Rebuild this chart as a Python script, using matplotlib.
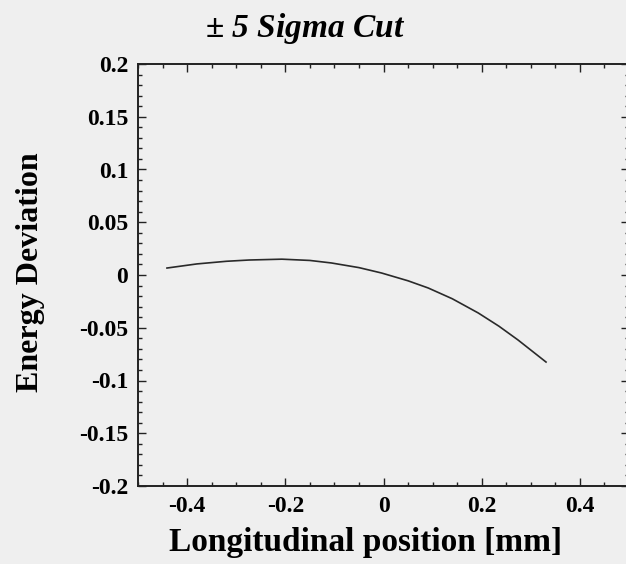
import numpy as np
import matplotlib
matplotlib.use("Agg")
import matplotlib.pyplot as plt
from matplotlib.ticker import MultipleLocator

# ----------------------------
# data
# ----------------------------
pos_mm = [-0.441, -0.38, -0.32, -0.274, -0.207, -0.15, -0.106, -0.05, -0.004,
          0.05, 0.091, 0.14, 0.193, 0.235, 0.274, 0.331]
energy_dev = [0.0066, 0.0105, 0.0130, 0.0142, 0.0150, 0.0138, 0.0114, 0.0070, 0.0019,
              -0.0055, -0.0123, -0.0225, -0.0360, -0.0485, -0.0616, -0.0825]

title = "$\\pm$ 5 Sigma Cut"
x_label = "Longitudinal position [mm]"
y_label = "Energy Deviation"
x_ticks = [-0.4, -0.2, 0, 0.2, 0.4]
x_tick_labels = ["-0.4", "-0.2", "0", "0.2", "0.4"]
y_ticks = [0.2, 0.15, 0.1, 0.05, 0, -0.05, -0.1, -0.15, -0.2]
y_tick_labels = ["0.2", "0.15", "0.1", "0.05", "0", "-0.05", "-0.1", "-0.15", "-0.2"]

bg = "#efefef"
plt.rcParams["font.family"] = ["Liberation Serif", "DejaVu Serif"]
plt.rcParams["mathtext.fontset"] = "custom"
plt.rcParams["mathtext.rm"] = "Liberation Serif:bold"
plt.rcParams["mathtext.it"] = "Liberation Serif:bold:italic"

fig = plt.figure(figsize=(6.26, 5.64), dpi=100, facecolor=bg)
ax = fig.add_axes([138 / 626, 78 / 564, 491 / 626, 422 / 564], facecolor=bg)

ax.plot(pos_mm, energy_dev, color="#2a2a2a", linewidth=1.2)

ax.set_xlim(-0.5, 0.5)
ax.set_ylim(-0.2, 0.2)
ax.set_xticks(x_ticks)
ax.set_xticklabels(x_tick_labels)
ax.set_yticks(y_ticks)
ax.set_yticklabels(y_tick_labels)
ax.xaxis.set_minor_locator(MultipleLocator(0.05))
ax.yaxis.set_minor_locator(MultipleLocator(0.01))
ax.tick_params(which="both", direction="in", top=True, right=True, width=1.0, color="#222222")
ax.tick_params(which="major", length=6, labelsize=17, pad=7)
ax.tick_params(which="minor", length=3)
for lab in ax.get_xticklabels() + ax.get_yticklabels():
    lab.set_fontweight("bold")
for sp in ax.spines.values():
    sp.set_linewidth(1.4)
    sp.set_color("#222222")

fig.text(305 / 626, 1 - 29 / 564, title, ha="center", va="center",
         fontsize=24, fontweight="bold", fontstyle="italic")
fig.text(366 / 626, 1 - 543 / 564, x_label, ha="center", va="center",
         fontsize=24, fontweight="bold")
fig.text(31 / 626, 1 - 272 / 564, y_label, ha="center", va="center",
         rotation=90, fontsize=23, fontweight="bold")

fig.savefig("out.png", dpi=100, facecolor=bg)
